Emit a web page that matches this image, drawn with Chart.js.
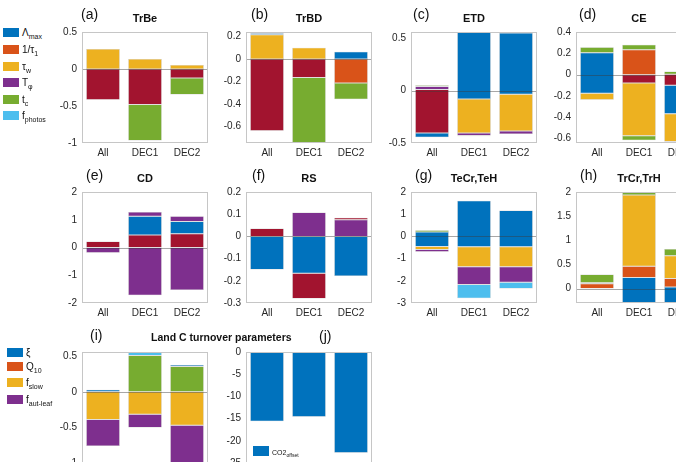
<!DOCTYPE html>
<html>
<head>
<meta charset="utf-8">
<script src="https://cdn.jsdelivr.net/npm/chart.js@4"></script>
<style>
html, body { margin: 0; padding: 0; width: 676px; height: 462px; overflow: hidden; background: #fff; }
body { position: relative; font-family: "Liberation Sans", Arial, sans-serif; color: #111; }
.panel { position: absolute; width: 164px; height: 140px; }
.lbl { position: absolute; font-size: 14px; line-height: 16px; }
.ttl { position: absolute; width: 126px; text-align: center; font-size: 11px; line-height: 13px; font-weight: bold; }
.leg { position: absolute; font-size: 10px; line-height: 12px; white-space: nowrap; }
.leg i { display: inline-block; width: 16px; height: 9px; vertical-align: -1px; margin-right: 3px; }
.leg sub { font-size: 7px; vertical-align: -3px; }
</style>
</head>
<body>
<script>
const cats = ['All', 'DEC1', 'DEC2'];
const colors = {
  blue: '#0072BD', orange: '#D95319', yellow: '#EDB120', purple: '#7E2F8E',
  green: '#77AC30', cyan: '#4DBEEE', red: '#A2142F'
};

// each row: colour, then [from, to] for All, DEC1, DEC2
const trbe = [
  ['yellow', [0, 0.27], [0, 0.135], [0, 0.055]],
  ['red', [-0.415, 0], [-0.48, 0], [-0.12, 0]],
  ['green', null, [-0.965, -0.48], [-0.345, -0.12]]
];
const trbd = [
  ['cyan', [0.228, 0.24], null, null],
  ['blue', [0.215, 0.228], null, [0, 0.064]],
  ['yellow', [0, 0.215], [0, 0.1], null],
  ['orange', null, null, [-0.215, 0]],
  ['red', [-0.64, 0], [-0.166, 0], null],
  ['green', null, [-0.8, -0.166], [-0.36, -0.215]]
];
const etd = [
  ['green', [0.04, 0.052], [-0.435, -0.428], null],
  ['purple', [0.01, 0.04], [-0.428, -0.405], [-0.414, -0.386]],
  ['red', [-0.405, 0.01], null, null],
  ['blue', [-0.445, -0.405], [-0.08, 0.558], [-0.034, 0.55]],
  ['yellow', null, [-0.405, -0.08], [-0.386, -0.034]]
];
const ce = [
  ['green', [0.206, 0.258], [0.234, 0.28], [0.005, 0.03]],
  ['orange', null, [0, 0.234], null],
  ['red', null, [-0.077, 0], [-0.1, 0.005]],
  ['blue', [-0.173, 0.206], null, [-0.365, -0.1]],
  ['yellow', [-0.235, -0.173], [-0.573, -0.077], [-0.625, -0.365]],
  ['green', null, [-0.615, -0.573], null],
  ['purple', null, null, [-0.64, -0.625]]
];
const cd = [
  ['red', [0, 0.22], [0, 0.45], [0, 0.5]],
  ['blue', null, [0.45, 1.125], [0.5, 0.94]],
  ['purple', null, [1.125, 1.275], [0.94, 1.125]],
  ['purple', [-0.19, 0], [-1.72, 0], [-1.53, 0]]
];
const rs = [
  ['red', [0, 0.036], [-0.28, -0.166], [0.075, 0.084]],
  ['purple', null, [0, 0.108], [0, 0.075]],
  ['blue', [-0.149, 0], [-0.166, 0], [-0.178, 0]]
];
const tecr = [
  ['green', [0.2, 0.28], null, null],
  ['blue', [-0.46, 0.2], [-0.47, 1.61], [-0.47, 1.17]],
  ['yellow', [-0.59, -0.46], [-1.37, -0.47], [-1.37, -0.47]],
  ['purple', [-0.69, -0.59], [-2.17, -1.37], [-2.07, -1.37]],
  ['cyan', null, [-2.79, -2.17], [-2.35, -2.07]]
];
const trcr = [
  ['green', [0.12, 0.29], [1.94, 2.0], [0.68, 0.82]],
  ['red', [0.1, 0.12], null, null],
  ['yellow', null, [0.46, 1.94], [0.21, 0.68]],
  ['orange', [0, 0.1], [0.23, 0.46], [0.03, 0.21]],
  ['blue', null, [-0.29, 0.23], [-0.3, 0.03]]
];
const landC = [
  ['cyan', null, [0.51, 0.57], null],
  ['blue', [0, 0.031], null, [0.355, 0.378]],
  ['green', null, [0, 0.51], [0, 0.355]],
  ['yellow', [-0.39, 0], [-0.316, 0], [-0.47, 0]],
  ['purple', [-0.76, -0.39], [-0.5, -0.316], [-1.1, -0.47]]
];
const co2offset = [-15.6, -14.6, -22.7];

// y limits and tick labels per panel
const limA = [-1, 0.5],     ticksA = [-1, -0.5, 0, 0.5];
const limB = [-0.75, 0.24], ticksB = [-0.6, -0.4, -0.2, 0, 0.2];
const limC = [-0.5, 0.56],  ticksC = [-0.5, 0, 0.5];
const limD = [-0.64, 0.4],  ticksD = [-0.6, -0.4, -0.2, 0, 0.2, 0.4];
const limE = [-2, 2],       ticksE = [-2, -1, 0, 1, 2];
const limF = [-0.3, 0.2],   ticksF = [-0.3, -0.2, -0.1, 0, 0.1, 0.2];
const limG = [-3, 2],       ticksG = [-3, -2, -1, 0, 1, 2];
const limH = [-0.3, 2],     ticksH = [0, 0.5, 1, 1.5, 2];
const limI = [-1, 0.56],    ticksI = [-1, -0.5, 0, 0.5];
const limJ = [-25, 0],      ticksJ = [-25, -20, -15, -10, -5, 0];

const font = { family: '"Liberation Sans", Arial, sans-serif', size: 10 };

// light grey box round the axes and the line at zero
const frame = {
  id: 'frame',
  afterDatasetsDraw(c) {
    const { ctx, chartArea: a } = c;
    const z = Math.round(c.scales.y.getPixelForValue(0)) + 0.5;
    ctx.save();
    ctx.lineWidth = 1;
    ctx.strokeStyle = 'rgba(60,60,60,0.45)';
    ctx.beginPath(); ctx.moveTo(a.left, z); ctx.lineTo(a.right, z); ctx.stroke();
    ctx.strokeStyle = '#c6c6c6';
    ctx.strokeRect(a.left + 0.5, a.top + 0.5, a.right - a.left - 1, a.bottom - a.top - 1);
    ctx.restore();
  }
};

function panel(x, y, datasets, lim, ticks) {
  const wrap = document.createElement('div');
  wrap.className = 'panel';
  wrap.style.left = (x - 34) + 'px';
  wrap.style.top = (y - 8) + 'px';
  const cv = document.createElement('canvas');
  wrap.appendChild(cv);
  document.body.appendChild(wrap);
  new Chart(cv, {
    type: 'bar',
    data: { labels: cats, datasets: datasets },
    options: {
      responsive: true, maintainAspectRatio: false, animation: false,
      layout: { autoPadding: false, padding: { top: 8, right: 4, bottom: 0, left: 0 } },
      plugins: { legend: { display: false }, tooltip: { enabled: false } },
      scales: {
        x: {
          grid: { display: false, drawTicks: false }, border: { display: false },
          ticks: { padding: 4, color: '#262626', font: font },
          afterFit: s => { s.height = 18; }
        },
        y: {
          min: lim[0], max: lim[1],
          grid: { display: false, drawTicks: false }, border: { display: false },
          ticks: { padding: 5, color: '#262626', font: font, callback: v => String(v) },
          afterBuildTicks: s => { s.ticks = ticks.map(v => ({ value: v })); },
          afterFit: s => { s.width = 34; }
        }
      }
    },
    plugins: [frame]
  });
}

function segs(rows) {
  return rows.map(r => ({
    label: r[0], data: r.slice(1), backgroundColor: colors[r[0]],
    borderColor: 'rgba(0,0,0,0.25)', borderWidth: 0.5, borderSkipped: false,
    barPercentage: 0.8, categoryPercentage: 1, grouped: false
  }));
}

const colX = [82, 246, 411, 576];
const rowY = [29, 189, 349];

panel(colX[0], rowY[0], segs(trbe), limA, ticksA);
panel(colX[1], rowY[0], segs(trbd), limB, ticksB);
panel(colX[2], rowY[0], segs(etd), limC, ticksC);
panel(colX[3], rowY[0], segs(ce), limD, ticksD);
panel(colX[0], rowY[1], segs(cd), limE, ticksE);
panel(colX[1], rowY[1], segs(rs), limF, ticksF);
panel(colX[2], rowY[1], segs(tecr), limG, ticksG);
panel(colX[3], rowY[1], segs(trcr), limH, ticksH);
panel(colX[0], rowY[2], segs(landC), limI, ticksI);
panel(colX[1], rowY[2], [{
  label: 'CO2offset', data: co2offset, backgroundColor: colors.blue,
  borderColor: 'rgba(0,0,0,0.25)', borderWidth: 0.5, borderSkipped: false,
  barPercentage: 0.8, categoryPercentage: 1
}], limJ, ticksJ);

// panel letters, titles and legends
function text(cls, x, y, html) {
  const d = document.createElement('div');
  d.className = cls;
  d.style.left = x + 'px';
  d.style.top = y + 'px';
  d.innerHTML = html;
  document.body.appendChild(d);
}
[['(a)', 81, 6], ['(b)', 251, 6], ['(c)', 413, 6], ['(d)', 579, 6],
 ['(e)', 86, 167], ['(f)', 252, 167], ['(g)', 415, 167], ['(h)', 580, 167],
 ['(i)', 90, 327], ['(j)', 319, 328]].forEach(l => text('lbl', l[1], l[2], l[0]));

[['TrBe', 0, 0], ['TrBD', 1, 0], ['ETD', 2, 0], ['CE', 3, 0],
 ['CD', 0, 1], ['RS', 1, 1], ['TeCr,TeH', 2, 1], ['TrCr,TrH', 3, 1]]
  .forEach(t => text('ttl', colX[t[1]], rowY[t[2]] - 17, t[0]));
text('ttl', 151, 331, '<span style="white-space:nowrap;font-size:10.5px">Land C turnover parameters</span>');

const legTop = [
  ['blue', 'Λ<sub>max</sub>'], ['orange', '1/τ<sub>1</sub>'], ['yellow', 'τ<sub>w</sub>'],
  ['purple', 'T<sub>φ</sub>'], ['green', 't<sub>c</sub>'], ['cyan', 'f<sub>photos</sub>']
];
const legTopY = [27, 44, 61, 77, 94, 110];
legTop.forEach((l, i) => text('leg', 3, legTopY[i], '<i style="background:' + colors[l[0]] + '"></i>' + l[1]));

const legBot = [
  ['blue', 'ξ'], ['orange', 'Q<sub>10</sub>'], ['yellow', 'f<sub>slow</sub>'], ['purple', 'f<sub>aut-leaf</sub>']
];
const legBotY = [347, 361, 377, 394];
legBot.forEach((l, i) => text('leg', 7, legBotY[i], '<i style="background:' + colors[l[0]] + '"></i>' + l[1]));

text('leg', 253, 446, '<i style="background:' + colors.blue + ';height:10px"></i><span style="font-size:7px">CO2<sub style="font-size:5px;vertical-align:-2px">offset</sub></span>');
</script>
</body>
</html>
